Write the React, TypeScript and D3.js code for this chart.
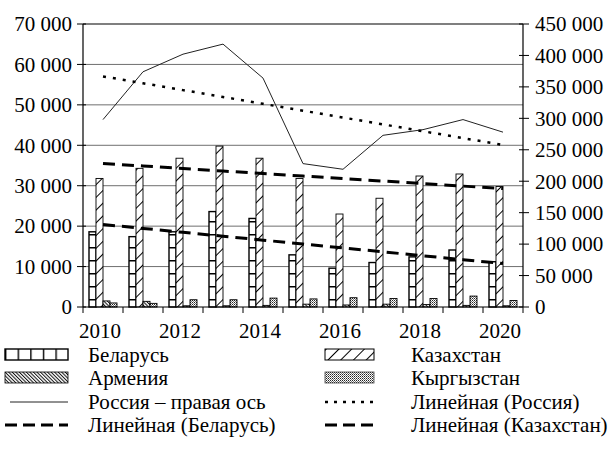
import * as d3 from "d3";

// values
const years = ["2010", "2011", "2012", "2013", "2014", "2015", "2016", "2017", "2018", "2019", "2020"];
const xTickLabels = ["2010", "2012", "2014", "2016", "2018", "2020"];
const belarus = [18600, 17400, 18600, 23600, 21900, 12900, 9600, 11000, 12400, 14100, 11200];
const kazakhstan = [31800, 34300, 36800, 39800, 36800, 31800, 23000, 26900, 32400, 32900, 29800];
const armenia = [1500, 1400, 300, 300, 400, 700, 500, 700, 600, 400, 300];
const kyrgyzstan = [1000, 900, 1800, 1800, 2200, 2000, 2300, 2100, 2100, 2700, 1600];
const russia = [298000, 374000, 402000, 418000, 364000, 228000, 219000, 273000, 282000, 298000, 278000];
const leftTicks = [0, 10000, 20000, 30000, 40000, 50000, 60000, 70000];
const rightTicks = [0, 50000, 100000, 150000, 200000, 250000, 300000, 350000, 400000, 450000];

const barSeries = [
  { name: "Беларусь", values: belarus, fill: "url(#brickH)" },
  { name: "Казахстан", values: kazakhstan, fill: "url(#slash)" },
  { name: "Армения", values: armenia, fill: "url(#back)" },
  { name: "Кыргызстан", values: kyrgyzstan, fill: "url(#dots)" },
];

const legendLeft = ["Беларусь", "Армения", "Россия – правая ось", "Линейная (Беларусь)"];
const legendRight = ["Казахстан", "Кыргызстан", "Линейная (Россия)", "Линейная (Казахстан)"];

const W = 612, H = 450;
const left = 83, right = 523, top = 24, bottom = 307;
const font = "'Liberation Serif', 'Times New Roman', serif";

const fmt = d3.formatLocale({ decimal: ",", thousands: " ", grouping: [3], currency: ["", ""] }).format(",d");

// least squares trend over the category index
function trend(vals: number[]) {
  const n = vals.length;
  const mx = (n - 1) / 2;
  const my = d3.mean(vals) as number;
  let sxy = 0, sxx = 0;
  vals.forEach((v, i) => { sxy += (i - mx) * (v - my); sxx += (i - mx) * (i - mx); });
  const b = sxy / sxx;
  return vals.map((_, i) => my + b * (i - mx));
}

const App = () => {
  const x = d3.scaleBand().domain(years).range([left, right]).padding(0);
  const xs = d3.scaleBand().domain(barSeries.map(s => s.name)).range([6, 34]);
  const y = d3.scaleLinear().domain([0, 70000]).range([bottom, top]);
  const yR = d3.scaleLinear().domain([0, 450000]).range([bottom, top]);
  const cx = (yr: string) => (x(yr) as number) + x.bandwidth() / 2;

  const lineL = d3.line<number>().x((_, i) => cx(years[i])).y(d => y(d));
  const lineR = d3.line<number>().x((_, i) => cx(years[i])).y(d => yR(d));

  const rowY = [355, 378, 402, 425];
  const swatch = (label: string, x0: number, x1: number, cy: number) => {
    if (label === "Беларусь")
      return <rect x={x0} y={cy - 6} width={x1 - x0} height={11} fill="url(#brickV)" stroke="#000" strokeWidth={1.4} />;
    if (label === "Казахстан")
      return <rect x={x0} y={cy - 6} width={x1 - x0} height={11} fill="url(#slash)" stroke="#000" strokeWidth={1} />;
    if (label === "Армения")
      return <rect x={x0} y={cy - 6} width={x1 - x0} height={11} fill="url(#back)" stroke="#000" strokeWidth={0.8} />;
    if (label === "Кыргызстан")
      return <rect x={x0} y={cy - 6} width={x1 - x0} height={11} fill="url(#dots)" stroke="#444" strokeWidth={0.8} />;
    if (label === "Россия – правая ось")
      return <line x1={x0 + 5} x2={x1} y1={cy} y2={cy} stroke="#222" strokeWidth={1} />;
    if (label === "Линейная (Россия)")
      return <line x1={x0} x2={x1} y1={cy} y2={cy} stroke="#000" strokeWidth={2.5} strokeDasharray="3,6" />;
    return <line x1={x0} x2={x1} y1={cy} y2={cy} stroke="#000" strokeWidth={3} strokeDasharray="12,6" />;
  };

  return (
    <div style={{ position: "absolute", left: 0, top: 0 }}>
      <svg width={W} height={H} style={{ display: "block", background: "#fff" }} fontFamily={font}>
        <defs>
          <pattern id="brickH" patternUnits="userSpaceOnUse" width={40} height={13}>
            <rect width={40} height={13} fill="#fff" />
            <line x1={0} x2={40} y1={0.7} y2={0.7} stroke="#000" strokeWidth={1.4} />
          </pattern>
          <pattern id="brickV" patternUnits="userSpaceOnUse" width={12.6} height={20} x={5}>
            <rect width={12.6} height={20} fill="#fff" />
            <line x1={0.7} x2={0.7} y1={0} y2={20} stroke="#000" strokeWidth={1.4} />
          </pattern>
          <pattern id="slash" patternUnits="userSpaceOnUse" width={9} height={9} patternTransform="rotate(45)">
            <rect width={9} height={9} fill="#fff" />
            <line x1={0.5} x2={0.5} y1={0} y2={9} stroke="#000" strokeWidth={1} />
          </pattern>
          <pattern id="back" patternUnits="userSpaceOnUse" width={2.5} height={2.5} patternTransform="rotate(-45)">
            <rect width={2.5} height={2.5} fill="#fff" />
            <line x1={0.5} x2={0.5} y1={0} y2={2.5} stroke="#111" strokeWidth={1} />
          </pattern>
          <pattern id="dots" patternUnits="userSpaceOnUse" width={2} height={2}>
            <rect width={2} height={2} fill="#fff" />
            <rect width={1} height={1} fill="#222" />
            <rect x={1} y={1} width={1} height={1} fill="#777" />
          </pattern>
        </defs>

        {/* gridlines */}
        {leftTicks.slice(1, -1).map(t => (
          <line key={t} x1={left} x2={right} y1={y(t)} y2={y(t)} stroke="#6f6f6f" strokeWidth={1} />
        ))}

        {/* bars */}
        {barSeries.map(s => (
          <g key={s.name}>
            {s.values.map((v, i) => (
              <rect key={i}
                x={(x(years[i]) as number) + (xs(s.name) as number)}
                y={y(v)}
                width={xs.bandwidth()}
                height={bottom - y(v)}
                fill={s.fill}
                stroke="#000"
                strokeWidth={s.name === "Беларусь" ? 1.4 : 0.9} />
            ))}
          </g>
        ))}

        {/* lines */}
        <path d={lineR(russia) as string} fill="none" stroke="#222" strokeWidth={1} />
        <path d={lineR(trend(russia)) as string} fill="none" stroke="#000" strokeWidth={2.5} strokeDasharray="3,7" />
        <path d={lineL(trend(belarus)) as string} fill="none" stroke="#000" strokeWidth={3} strokeDasharray="12,7" />
        <path d={lineL(trend(kazakhstan)) as string} fill="none" stroke="#000" strokeWidth={3} strokeDasharray="12,7" />

        {/* frame */}
        <line x1={left} x2={right} y1={top} y2={top} stroke="#000" strokeWidth={1.2} />
        <line x1={left} x2={right} y1={bottom} y2={bottom} stroke="#000" strokeWidth={1.2} />
        <line x1={left} x2={left} y1={top} y2={bottom} stroke="#000" strokeWidth={1.2} />
        <line x1={right} x2={right} y1={top} y2={bottom} stroke="#000" strokeWidth={1.2} />

        {/* left axis */}
        {leftTicks.map(t => (
          <g key={t}>
            <line x1={left - 6} x2={left + 3} y1={y(t)} y2={y(t)} stroke="#000" strokeWidth={1} />
            <text x={72} y={y(t)} dy="0.35em" textAnchor="end" fontSize={21}>{fmt(t)}</text>
          </g>
        ))}

        {/* right axis */}
        {rightTicks.map(t => (
          <g key={t}>
            <line x1={right - 4} x2={right + 6} y1={yR(t)} y2={yR(t)} stroke="#000" strokeWidth={1} />
            <text x={535} y={yR(t)} dy="0.35em" textAnchor="start" fontSize={21}>{fmt(t)}</text>
          </g>
        ))}

        {/* bottom axis */}
        {years.concat(["end"]).map((yr, i) => {
          const px = yr === "end" ? right : (x(yr) as number);
          return <line key={i} x1={px} x2={px} y1={bottom} y2={bottom + 6} stroke="#000" strokeWidth={1} />;
        })}
        {xTickLabels.map(l => (
          <text key={l} x={cx(l) - 3} y={338} textAnchor="middle" fontSize={21}>{l}</text>
        ))}

        {/* legend */}
        {legendLeft.map((l, i) => (
          <g key={l}>
            {swatch(l, 5, 68, rowY[i])}
            <text x={88} y={rowY[i]} dy="0.35em" fontSize={21}>{l}</text>
          </g>
        ))}
        {legendRight.map((l, i) => (
          <g key={l}>
            {swatch(l, 325, 374, rowY[i])}
            <text x={411} y={rowY[i]} dy="0.35em" fontSize={21}>{l}</text>
          </g>
        ))}
      </svg>
    </div>
  );
};

export default App;
